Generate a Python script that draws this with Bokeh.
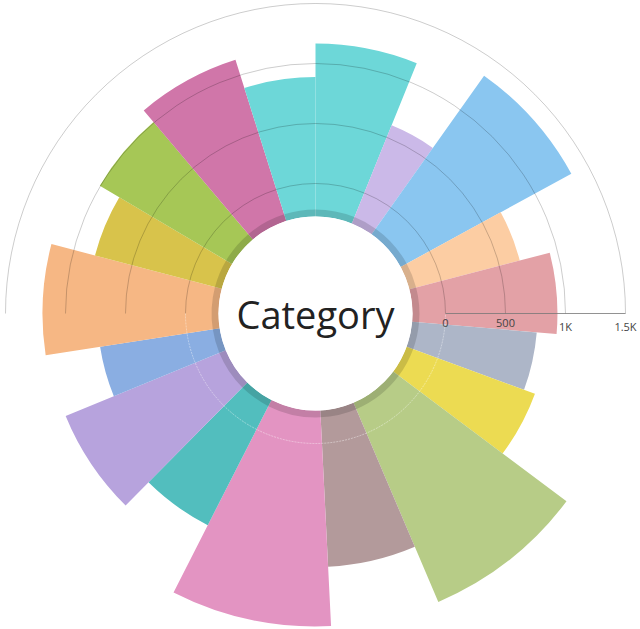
import numpy as np
from bokeh.plotting import figure
from bokeh.models import Range1d, ColumnDataSource
from bokeh.core.properties import value
from bokeh.embed import file_html
from bokeh.resources import INLINE

# ---- data (clockwise from 12 o'clock) ----
categories = ["C1", "C2", "C3", "C4", "C5", "C6", "C7", "C8", "C9",
              "C10", "C11", "C12", "C13", "C14", "C15", "C16", "C17", "C18"]
radius_values = [1167, 608, 1346, 675, 933, 767, 864, 1529, 1029,
                 1525, 896, 1167, 733, 1192, 817, 1006, 1133, 887]
angle_shares = [22.0, 13.3, 26.0, 14.1, 19.4, 15.2, 16.7, 30.1, 20.2,
                29.8, 17.7, 23.0, 13.5, 23.5, 15.9, 19.1, 22.7, 17.5]
colors = ["#6dd7d8", "#cbb9e8", "#8ac6f0", "#fccda3", "#e3a1a6", "#adb6c8",
          "#ecdb52", "#b7cc87", "#b39a9b", "#e394c2", "#52bebe", "#b7a3dd",
          "#8aaee2", "#f6b784", "#d8c34b", "#a6c756", "#d076a9", "#6dd7d8"]
tick_values = [0, 500, 1000, 1500]
tick_labels = ["0", "500", "1K", "1.5K"]
center_label = "Category"

# ---- layout constants ----
PX = 0.12            # screen px per value unit
OFFSET = 130 / PX    # radius of the value 0 ring
INNER = -275         # inner edge of the slices (value units)
BAND = -217          # outer edge of the darker inner band
W, H = 640, 629
CX, CY = 315, 313    # centre inside the frame (px from left / top)

shares = np.array(angle_shares, dtype=float)
cum = np.concatenate([[0.0], np.cumsum(shares)]) * 360.0 / shares.sum()
start_deg = 90.0 - cum[1:]
end_deg = 90.0 - cum[:-1]

src = ColumnDataSource(dict(
    cat=categories,
    outer=[OFFSET + v for v in radius_values],
    start=np.radians(start_deg),
    end=np.radians(end_deg),
    color=colors,
))

p = figure(width=W, height=H, output_backend="svg", toolbar_location=None,
           x_range=Range1d(-CX / PX, (W - CX) / PX),
           y_range=Range1d(-(H - CY) / PX, CY / PX),
           min_border=0, outline_line_color=None, background_fill_color="white",
           border_fill_color="white")
p.axis.visible = False
p.grid.visible = False

# slices
p.annular_wedge(x=0, y=0, inner_radius=OFFSET + INNER, outer_radius="outer",
                start_angle="start", end_angle="end", fill_color="color",
                line_color=None, source=src)
# darker inner band
p.annular_wedge(x=0, y=0, inner_radius=OFFSET + INNER, outer_radius=OFFSET + BAND,
                start_angle="start", end_angle="end", fill_color="black",
                fill_alpha=0.14, line_color=None, source=src)

# grid semicircles (upper half)
for tv in tick_values:
    p.arc(x=0, y=0, radius=OFFSET + tv, start_angle=0, end_angle=np.pi,
          line_color="black", line_alpha=0.2, line_width=1)
# faint ring in lower half
p.arc(x=0, y=0, radius=OFFSET + tick_values[0], start_angle=np.pi, end_angle=2 * np.pi,
      line_color="white", line_alpha=0.4, line_width=1, line_dash="2 1")

# radial axis
p.segment(x0=OFFSET + tick_values[0], y0=0, x1=OFFSET + tick_values[-1], y1=0,
          line_color="#777777", line_alpha=0.8, line_width=1)
p.text(x=[OFFSET + tv for tv in tick_values], y=[0] * len(tick_values), text=tick_labels,
       text_align="center", text_baseline="top", y_offset=5,
       text_font=value("Open Sans"), text_font_size="11px", text_color="#444444")

# centre
p.circle(x=0, y=0, radius=OFFSET + INNER, fill_color="white", line_color=None)
p.text(x=[0], y=[0], text=[center_label], text_align="center", text_baseline="middle",
       y_offset=0, text_font=value("Open Sans"), text_font_size="38px", text_color="#222222")

open("out.html", "w").write(file_html(p, INLINE))
